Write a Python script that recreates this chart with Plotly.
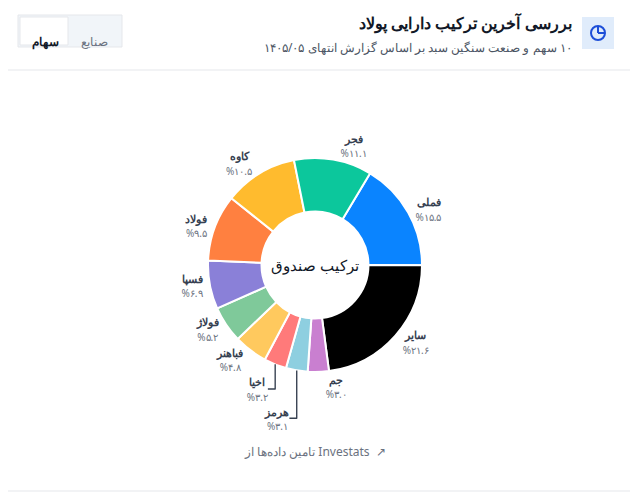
import plotly.graph_objects as go

labels = ["فملی", "سایر", "جم", "هرمز", "اخیا", "فباهنر", "فولاژ", "فسپا", "فولاد", "کاوه", "فجر"]
values = [15.5, 21.6, 3.0, 3.1, 3.2, 4.8, 5.2, 6.9, 9.5, 10.5, 11.1]
colors = ["#0a84ff", "#000000", "#c97fd0", "#8ecfe0", "#ff7a7a", "#ffc95e", "#7fc99a",
          "#8a80d8", "#ff8040", "#ffbb2e", "#0cc79c"]

def fa(s):
    return s.translate(str.maketrans("0123456789.", "۰۱۲۳۴۵۶۷۸۹."))

texts = ["<b>%s</b><br><span style='color:#6b7280;font-size:10px'>%%%s</span>" % (l, fa("%.1f" % v)) for l, v in zip(labels, values)]

W, H = 622, 484
def px(x): return (x - 8) / W
def py(y): return 1 - (y - 8) / H

fig = go.Figure(go.Pie(
    labels=labels, values=values, text=texts, textinfo="text", textposition="outside",
    hole=0.5, sort=False, direction="clockwise", rotation=31,
    marker=dict(colors=colors, line=dict(color="white", width=2)),
    textfont=dict(size=11, color="#374151", family="Noto Sans"),
    domain=dict(x=[px(208), px(422)], y=[py(372), py(158)]), showlegend=False, automargin=False,
    hoverinfo="label+value"))

shapes = [
    dict(type="line", xref="paper", yref="paper", x0=0, x1=1, y0=py(70), y1=py(70), line=dict(color="#e5e7eb", width=1)),
    dict(type="line", xref="paper", yref="paper", x0=0, x1=1, y0=py(491), y1=py(491), line=dict(color="#e5e7eb", width=1)),
    dict(type="rect", xref="paper", yref="paper", x0=px(18), x1=px(122), y0=py(47), y1=py(15), fillcolor="#f1f5f9", line=dict(color="#e5e7eb", width=1), layer="below"),
    dict(type="rect", xref="paper", yref="paper", x0=px(20), x1=px(68), y0=py(45), y1=py(17), fillcolor="white", line=dict(color="#e5e7eb", width=1), layer="below"),
    dict(type="rect", xref="paper", yref="paper", x0=px(582), x1=px(614), y0=py(49), y1=py(17), fillcolor="#e0ecfb", line=dict(width=0), layer="below"),
    dict(type="circle", xref="paper", yref="paper", x0=px(591), x1=px(605), y0=py(40), y1=py(26), line=dict(color="#1d4ed8", width=2)),
    dict(type="line", xref="paper", yref="paper", x0=px(598), x1=px(598), y0=py(26), y1=py(33), line=dict(color="#1d4ed8", width=2)),
    dict(type="line", xref="paper", yref="paper", x0=px(598), x1=px(605), y0=py(33), y1=py(33), line=dict(color="#1d4ed8", width=2)),
]
ann = [
    dict(text="<b>بررسی آخرین ترکیب دارایی پولاد</b>", x=px(574), y=py(23), xanchor="right", yanchor="middle", showarrow=False, font=dict(size=16, color="#111827")),
    dict(text="\u200f۱۰ سهم و صنعت سنگین سبد بر اساس گزارش انتهای ۱۴۰۵/۰۵", x=px(574), y=py(48), xanchor="right", yanchor="middle", showarrow=False, font=dict(size=12, color="#4b5563")),
    dict(text="<b>سهام</b>", x=px(30), y=py(31), showarrow=False, font=dict(size=12, color="#111827")),
    dict(text="صنایع", x=px(79), y=py(31), showarrow=False, font=dict(size=12, color="#6b7280")),
    dict(text="ترکیب صندوق", x=px(315), y=py(265), showarrow=False, font=dict(size=15, color="#111827")),
    dict(text="\u200fتامین داده‌ها از Investats  ↗", x=px(315), y=py(462), showarrow=False, font=dict(size=12, color="#6b7280")),
]
fig.update_layout(width=W, height=H, margin=dict(l=0, r=0, t=0, b=0), paper_bgcolor="white",
                  shapes=shapes, annotations=ann, font=dict(family="Noto Sans"))
fig.write_html("out.html")
